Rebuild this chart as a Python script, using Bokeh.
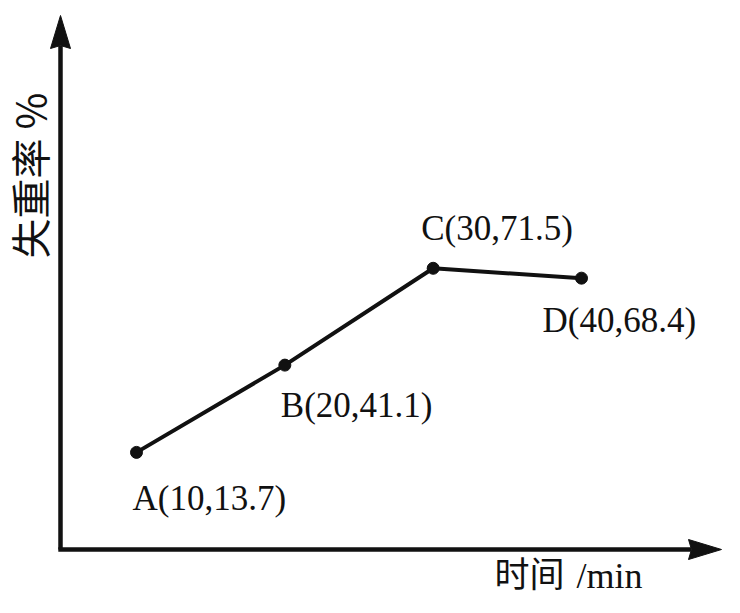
import math
from bokeh.plotting import figure
from bokeh.models import ColumnDataSource
from bokeh.core.properties import value
from bokeh.embed import file_html
from bokeh.resources import INLINE

# ---- data ----
point_names = ["A", "B", "C", "D"]
time_min = [10, 20, 30, 40]
loss_pct = [13.7, 41.1, 71.5, 68.4]

# ---- layout / styling ----
W, H = 724, 597
X0, X1 = 0.8315, 49.64
Y0, Y1 = -31.86, 155.58
SX = W / (X1 - X0)   # px per minute
SY = H / (Y1 - Y0)   # px per percent
INK = "#111111"


def fx(px):
    return X0 + px / SX


def fy(py):
    return Y1 - py / SY


p = figure(width=W, height=H, x_range=(X0, X1), y_range=(Y0, Y1),
           output_backend="svg", toolbar_location=None,
           x_axis_location=None, y_axis_location=None,
           min_border=0, outline_line_color=None,
           background_fill_color="white", border_fill_color="white")
p.grid.visible = False

# ---- axes with arrowheads ----
ox, oy = fx(60), fy(549)
x_tip, y_tip = fx(721), fy(15)
head_len, head_half, notch = 33, 10, 3

# vertical axis
p.line([ox, ox], [oy, y_tip - (head_len - notch) / SY], line_color=INK, line_width=4.5)
p.patch([ox, ox - head_half / SX, ox, ox + head_half / SX],
        [y_tip, y_tip - head_len / SY, y_tip - (head_len - notch) / SY, y_tip - head_len / SY],
        fill_color=INK, line_color=INK, line_width=1)
# horizontal axis
p.line([ox - 2.2 / SX, x_tip - (head_len - notch) / SX], [oy, oy], line_color=INK, line_width=4.5)
p.patch([x_tip, x_tip - head_len / SX, x_tip - (head_len - notch) / SX, x_tip - head_len / SX],
        [oy, oy + head_half / SY, oy, oy - head_half / SY],
        fill_color=INK, line_color=INK, line_width=1)

# ---- data line and points ----
labels = [f"{n}({t},{v})" for n, t, v in zip(point_names, time_min, loss_pct)]
src = ColumnDataSource(dict(x=time_min, y=loss_pct, label=labels,
                            dx=[-4, -4, -12, -39], dy=[46, 40, -40, 42]))
p.line("x", "y", source=src, line_color=INK, line_width=4)
p.scatter("x", "y", source=src, size=12, fill_color=INK, line_color=INK)
p.text("x", "y", text="label", source=src, x_offset="dx", y_offset="dy",
       text_font=value("Liberation Serif"), text_font_size="35px",
       text_color=INK, text_align="left", text_baseline="middle")

# ---- axis titles ----
p.text(x=[fx(28)], y=[fy(258)], text=["失重率 %"], angle=math.pi / 2,
       text_font=value("Noto Sans CJK SC"), text_font_size="40px",
       text_color=INK, text_align="left", text_baseline="middle")
p.text(x=[fx(494)], y=[fy(571)], text=["时间"],
       text_font=value("Noto Sans CJK SC"), text_font_size="35px",
       text_color=INK, text_align="left", text_baseline="middle")
p.text(x=[fx(576)], y=[fy(575)], text=["/min"],
       text_font=value("Liberation Serif"), text_font_size="36px",
       text_color=INK, text_align="left", text_baseline="middle")

open("out.html", "w").write(file_html(p, INLINE))
